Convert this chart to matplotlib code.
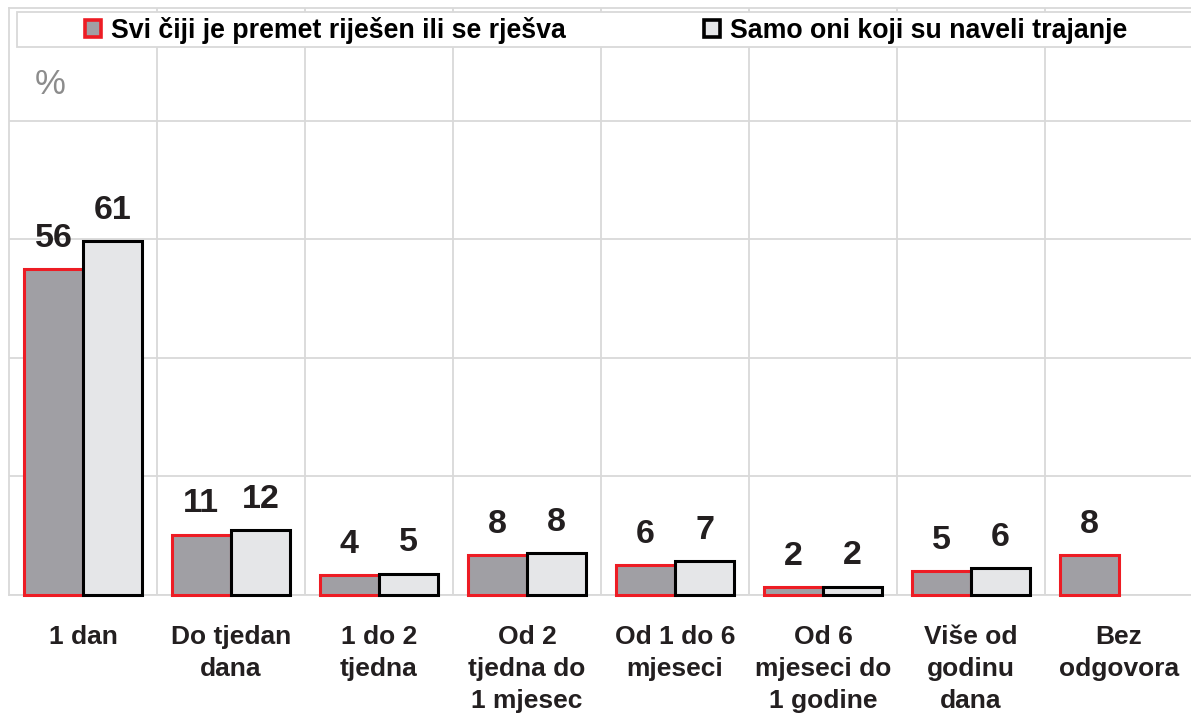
import numpy as np
import matplotlib.pyplot as plt
from matplotlib.patches import Patch, Rectangle

plt.rcParams['font.family'] = ['Liberation Sans', 'DejaVu Sans']

# ================================
# data
# ================================
categories = ["1 dan", "Do tjedan\ndana", "1 do 2\ntjedna", "Od 2\ntjedna do\n1 mjesec",
              "Od 1 do 6\nmjeseci", "Od 6\nmjeseci do\n1 godine", "Više od\ngodinu\ndana", "Bez\nodgovora"]
series_names = ["Svi čiji je premet riješen ili se rješva", "Samo oni koji su naveli trajanje"]

# bar heights as drawn, and the printed labels
svi_heights = [55.0, 10.2, 3.3, 6.7, 5.1, 1.3, 4.0, 6.7]
svi_labels = [56, 11, 4, 8, 6, 2, 5, 8]
samo_heights = [59.7, 11.0, 3.6, 7.0, 5.7, 1.4, 4.5]
samo_labels = [61, 12, 5, 8, 7, 2, 6]

red = '#ED1C24'
dark_fill = '#A09FA4'
light_fill = '#E5E6E8'
txt_color = '#231F20'
grid_color = '#D9D9D9'

W, H = 1191, 715
fig = plt.figure(figsize=(W / 100, H / 100), dpi=100)
ax = fig.add_axes([9 / W, (H - 595) / H, 1184 / W, 587 / H])

x = np.arange(len(categories))
bw = 0.4
ax.bar(x - bw / 2, svi_heights, width=bw, color=dark_fill, edgecolor=red, linewidth=2.2, zorder=3, clip_on=False)
ax.bar(x[:len(samo_heights)] + bw / 2, samo_heights, width=bw, color=light_fill, edgecolor='black',
       linewidth=2.2, zorder=3, clip_on=False)

for xi, h, lab in zip(x - bw / 2, svi_heights, svi_labels):
    ax.annotate(str(lab), (xi, h), xytext=(0, 16), textcoords='offset points', ha='center', va='baseline',
                fontsize=24.5, fontweight='bold', color=txt_color)
for xi, h, lab in zip(x[:len(samo_heights)] + bw / 2, samo_heights, samo_labels):
    ax.annotate(str(lab), (xi, h), xytext=(0, 16), textcoords='offset points', ha='center', va='baseline',
                fontsize=24.5, fontweight='bold', color=txt_color)

ax.set_xlim(-0.5, len(categories) - 0.5)
ax.set_ylim(0, 99)
ax.set_yticks([0, 20, 40, 60, 80])
ax.set_yticklabels([])
ax.tick_params(axis='y', length=0)
ax.set_xticks(x)
ax.set_xticklabels(categories, fontsize=19, fontweight='bold', color=txt_color, linespacing=1.42)
ax.tick_params(axis='x', length=0, pad=21.5)
ax.set_xticks(x[:-1] + 0.5, minor=True)
ax.tick_params(axis='x', which='minor', length=0)
ax.grid(True, axis='y', color=grid_color, linewidth=1.3, zorder=0)
ax.grid(True, axis='x', which='minor', color=grid_color, linewidth=1.3, zorder=0)
ax.grid(False, axis='x', which='major')
for s in ax.spines.values():
    s.set_color(grid_color)
    s.set_linewidth(1.3)

# '%' placed in pixel coordinates (origin bottom-left)
fig.text(50 / W, (H - 85) / H, '%', fontsize=25, color='#8C8C8C', ha='center', va='center')

# legend box
fig.patches.append(Rectangle((17 / W, (H - 47) / H), 1.0, 35 / H, transform=fig.transFigure,
                             facecolor='white', edgecolor=grid_color, linewidth=1.3, zorder=5))
handles = [Patch(facecolor=dark_fill, edgecolor=red, linewidth=2.6),
           Patch(facecolor=light_fill, edgecolor='black', linewidth=2.6)]
leg = fig.legend(handles, series_names, loc='center', bbox_to_anchor=(606 / W, (H - 30) / H), ncol=2,
                 frameon=False, prop={'size': 19.3, 'weight': 'bold'}, handlelength=0.6, handleheight=0.6,
                 handletextpad=0.36, columnspacing=5.16)
leg.set_zorder(6)

fig.savefig('out.png', dpi=100)
